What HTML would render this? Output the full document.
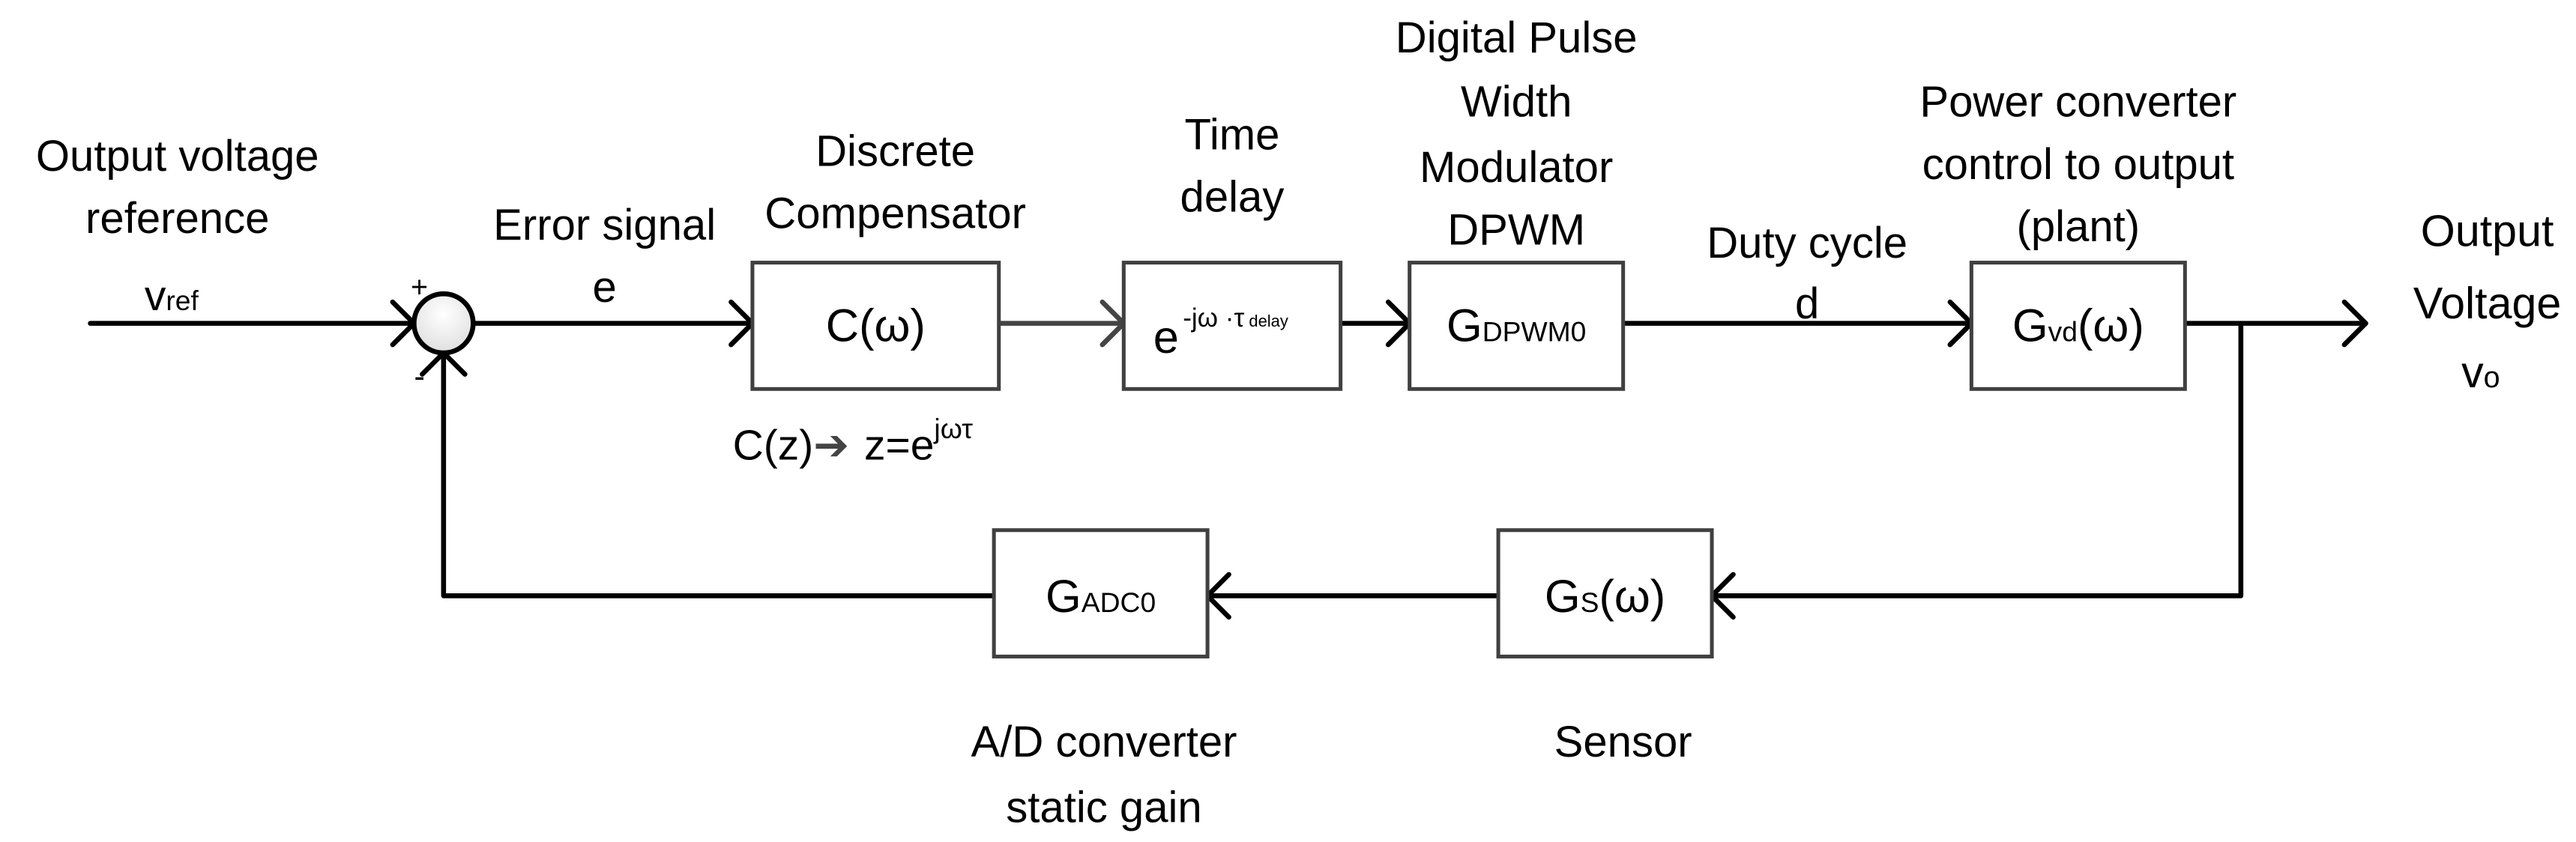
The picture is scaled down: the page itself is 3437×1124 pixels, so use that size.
<!DOCTYPE html>
<html><head><meta charset="utf-8"><style>
html,body{margin:0;padding:0;background:#fff;}
svg{display:block;}
text{font-family:"Liberation Sans",sans-serif;fill:#000;}
</style></head><body>
<svg width="3437" height="1124" viewBox="0 0 1568 513" preserveAspectRatio="none" xmlns="http://www.w3.org/2000/svg">
<defs>
<radialGradient id="g" cx="0.5" cy="0.35" r="0.7"><stop offset="0" stop-color="#fff"/><stop offset="1" stop-color="#ddd"/></radialGradient>
</defs>
<g stroke="#000" stroke-width="3" fill="none" stroke-linecap="round" stroke-linejoin="round">
<line x1="55" y1="197" x2="252" y2="197"/>
<polyline points="239,184 252,197 239,210"/>
<line x1="288" y1="197" x2="458" y2="197"/>
<polyline points="445,184 458,197 445,210"/>
<line x1="816" y1="197" x2="858" y2="197"/>
<polyline points="845,184 858,197 845,210"/>
<line x1="988" y1="197" x2="1200" y2="197"/>
<polyline points="1187,184 1200,197 1187,210"/>
<line x1="1330" y1="197" x2="1440" y2="197"/>
<polyline points="1427,184 1440,197 1427,210"/>
<polyline points="1364,197 1364,363 1042,363"/>
<polyline points="1055,350 1042,363 1055,376"/>
<line x1="912" y1="363" x2="735" y2="363"/>
<polyline points="748,350 735,363 748,376"/>
<polyline points="605,363 270,363 270,215"/>
<polyline points="257,228 270,215 283,228"/>
</g>
<g stroke="#444" stroke-width="3" fill="none" stroke-linecap="round" stroke-linejoin="round">
<line x1="608" y1="197" x2="684" y2="197"/>
<polyline points="671,184 684,197 671,210"/>
</g>
<circle cx="270" cy="197" r="18" fill="url(#g)" stroke="#000" stroke-width="3"/>
<g fill="#fff" stroke="#404040" stroke-width="2.3">
<rect x="458" y="160" width="150" height="77"/>
<rect x="684" y="160" width="132" height="77"/>
<rect x="858" y="160" width="130" height="77"/>
<rect x="1200" y="160" width="130" height="77"/>
<rect x="912" y="323" width="130" height="77"/>
<rect x="605" y="323" width="130" height="77"/>
</g>
<g font-size="26.5" text-anchor="middle">
<text x="108" y="104">Output voltage</text>
<text x="108" y="142">reference</text>
<text x="368" y="146">Error signal</text>
<text x="368" y="184">e</text>
<text x="545" y="101">Discrete</text>
<text x="545" y="139">Compensator</text>
<text x="750" y="91">Time</text>
<text x="750" y="129">delay</text>
<text x="923" y="32">Digital Pulse</text>
<text x="923" y="71">Width</text>
<text x="923" y="111">Modulator</text>
<text x="923" y="149">DPWM</text>
<text x="1100" y="157">Duty cycle</text>
<text x="1100" y="194">d</text>
<text x="1265" y="71">Power converter</text>
<text x="1265" y="109">control to output</text>
<text x="1265" y="147">(plant)</text>
<text x="672" y="461">A/D converter</text>
<text x="672" y="501">static gain</text>
<text x="988" y="461">Sensor</text>
</g>
<g font-size="28" text-anchor="middle">
<text x="533" y="208">C(ω)</text>
<text x="1265" y="208">G<tspan font-size="17">vd</tspan>(ω)</text>
<text x="977" y="373">G<tspan font-size="17">S</tspan>(ω)</text>
<text x="670" y="373">G<tspan font-size="17">ADC0</tspan></text>
<text x="923" y="208">G<tspan font-size="17">DPWM0</tspan></text>
</g>
<g font-size="27" text-anchor="middle">
<text x="1514" y="150">Output</text>
<text x="1514" y="194">Voltage</text>
<text x="1510" y="236">v<tspan font-size="18">o</tspan></text>
</g>
<text x="88" y="189" font-size="26">v<tspan font-size="17">ref</tspan></text>
<text x="250" y="181" font-size="18">+</text>
<text x="252" y="236" font-size="20">-</text>
<text x="702" y="215" font-size="28">e</text>
<text x="720" y="199" font-size="16">-jω ·τ<tspan font-size="10"> delay</tspan></text>
<text x="446" y="280" font-size="26">C(z)<tspan fill="#444">➔</tspan></text>
<text x="526" y="280" font-size="26">z=e<tspan font-size="17" dy="-13">jωτ</tspan></text>
</svg>
</body></html>
